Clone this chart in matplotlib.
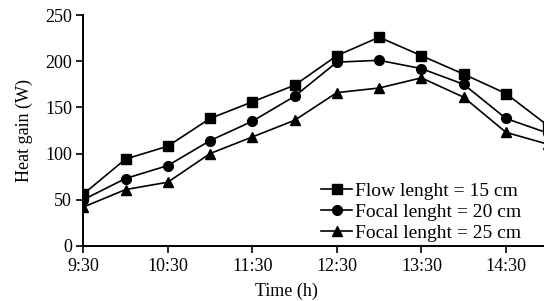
import matplotlib
matplotlib.use("Agg")
import matplotlib.pyplot as plt

plt.rcParams["font.family"] = ["Liberation Serif", "DejaVu Serif"]

hours = [9.5, 10.0, 10.5, 11.0, 11.5, 12.0, 12.5, 13.0, 13.5, 14.0, 14.5, 15.0]
flow_15 = [56, 94, 108, 138, 156, 174, 206, 226, 206, 186, 165, 130]
focal_20 = [50, 73, 87, 114, 135, 162, 199, 201, 192, 175, 138, 122]
focal_25 = [42, 61, 69, 100, 118, 136, 166, 171, 182, 161, 123, 110]

tick_pos = [9.5, 10.5, 11.5, 12.5, 13.5, 14.5]
tick_labels = ["9:30", "10:30", "11:30", "12:30", "13:30", "14:30"]

fig = plt.figure(figsize=(5.44, 3.01), dpi=100)
ax = fig.add_axes([0.153, 0.183, 0.847, 0.767])

ax.plot(hours, flow_15, "-s", color="black", lw=1.2, ms=7, label="Flow lenght = 15 cm")
ax.plot(hours, focal_20, "-o", color="black", lw=1.2, ms=7, label="Focal lenght = 20 cm")
ax.plot(hours, focal_25, "-^", color="black", lw=1.2, ms=7.5, label="Focal lenght = 25 cm")

ax.set_xlim(9.5, 14.95)
ax.set_ylim(0, 250)
ax.set_yticks([0, 50, 100, 150, 200, 250])
ax.set_xticks(tick_pos)
ax.set_xticklabels(tick_labels)
ax.tick_params(direction="out", length=5, width=1.2, labelsize=13, colors="black", pad=3)
ax.tick_params(axis="x", pad=4)
for s in ["top", "right"]:
    ax.spines[s].set_visible(False)
for s in ["left", "bottom"]:
    ax.spines[s].set_linewidth(1.4)

ax.set_xlabel("Time (h)", fontsize=13)
ax.set_ylabel("Heat gain (W)", fontsize=13)
ax.xaxis.set_label_coords(0.44, -0.16)
ax.yaxis.set_label_coords(-0.108, 0.5)

ax.legend(loc="upper left", bbox_to_anchor=(0.516, 0.275), frameon=False,
          fontsize=14, handlelength=1.6, handletextpad=0.15,
          labelspacing=0.17, borderpad=0, borderaxespad=0)

fig.savefig("out.png", dpi=100)
